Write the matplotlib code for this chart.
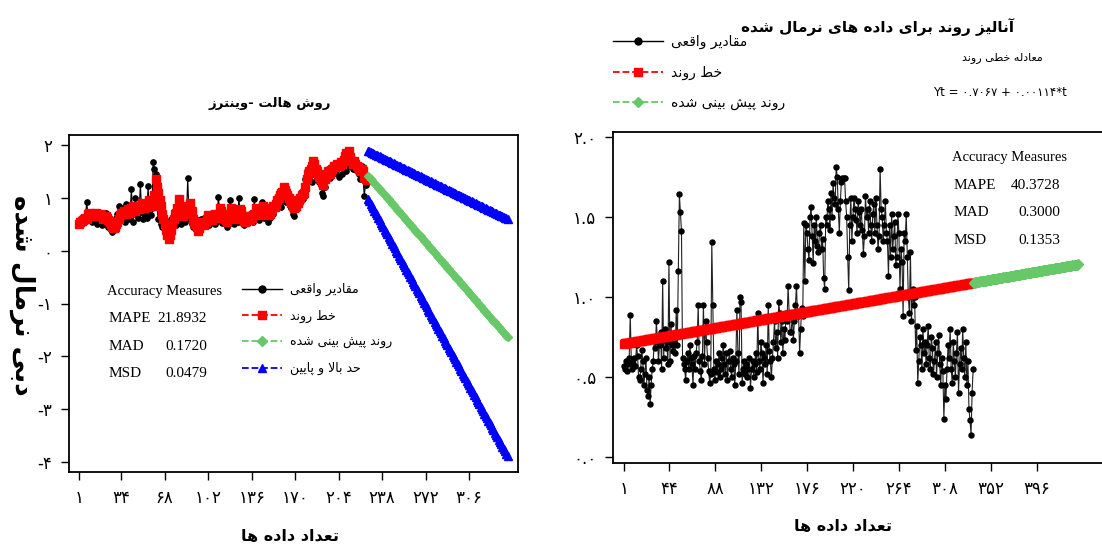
import numpy as np
import matplotlib
matplotlib.use("Agg")
import matplotlib.pyplot as plt
from matplotlib.lines import Line2D

W, H = 1102, 549
FA = ["DejaVu Sans"]
SERIF = ["Liberation Serif", "DejaVu Serif"]

# ---------------- data ----------------
# left panel: Holt-Winters, observed + fitted values, t = 1..226
left_actual = [
    0.57, 0.52, 0.6, 0.55, 0.62, 0.58, 0.92, 0.7, 0.65, 0.6,
    0.55, 0.68, 0.72, 0.6, 0.5, 0.62, 0.7, 0.58, 0.48, 0.65,
    0.6, 0.72, 0.55, 0.45, 0.5, 0.42, 0.35, 0.4, 0.5, 0.62,
    0.7, 0.85, 0.78, 0.62, 0.8, 0.68, 0.55, 0.88, 0.72, 0.6,
    0.75, 1.17, 0.54, 0.7, 0.99, 0.8, 0.62, 0.72, 1.26, 0.75,
    0.6, 0.9, 0.7, 0.62, 1.23, 0.75, 0.68, 0.8, 1.67, 1.55,
    1.45, 0.82, 0.6, 0.72, 0.5, 0.45, 0.62, 0.55, 0.4, 0.35,
    0.32, 0.45, 0.6, 0.55, 0.7, 0.52, 0.48, 0.62, 0.75, 0.58,
    0.5, 0.68, 0.72, 0.55, 0.6, 1.38, 0.7, 0.62, 0.5, 0.45,
    0.55, 0.62, 0.48, 0.4, 0.52, 0.6, 0.45, 0.5, 0.62, 0.58,
    0.7, 0.55, 0.48, 0.6, 0.72, 0.65, 0.5, 0.55, 0.68, 1.01,
    0.75, 0.6, 0.52, 0.62, 0.7, 0.58, 0.45, 0.55, 0.95, 0.68,
    0.6, 0.5, 0.62, 0.72, 0.55, 1.0, 0.7, 0.62, 0.5, 0.48,
    0.58, 0.65, 0.52, 0.6, 0.7, 0.62, 0.55, 0.98, 0.72, 0.6,
    0.65, 0.58, 0.75, 0.92, 0.7, 0.62, 0.8, 0.72, 0.55, 0.62,
    0.75, 0.85, 0.7, 0.8, 0.95, 0.88, 1.05, 0.9, 0.82, 0.95,
    1.1, 1.0, 0.92, 1.15, 1.05, 0.88, 0.8, 0.7, 0.66, 0.8,
    0.85, 0.95, 0.9, 1.05, 1.12, 0.98, 1.2, 1.35, 1.5, 1.42,
    1.55, 1.48, 1.3, 1.45, 1.6, 1.52, 1.38, 1.42, 1.3, 1.25,
    1.1, 1.04, 1.2, 1.35, 1.45, 1.55, 1.38, 1.42, 1.6, 1.5,
    1.48, 1.65, 1.55, 1.4, 1.68, 1.6, 1.45, 1.77, 1.62, 1.5,
    1.7, 1.6, 1.78, 1.65, 1.55, 1.72, 1.62, 1.5, 1.58, 1.45,
    1.35, 1.6, 1.4, 1.04, 1.25, 1.35,
]
left_fit = [
    0.5, 0.55, 0.56, 0.58, 0.6, 0.62, 0.6, 0.7, 0.72, 0.7,
    0.68, 0.66, 0.7, 0.72, 0.68, 0.65, 0.68, 0.7, 0.65, 0.6,
    0.62, 0.65, 0.62, 0.58, 0.55, 0.5, 0.45, 0.42, 0.45, 0.5,
    0.55, 0.6, 0.68, 0.72, 0.7, 0.75, 0.72, 0.7, 0.78, 0.75,
    0.72, 0.8, 0.85, 0.78, 0.75, 0.82, 0.8, 0.78, 0.85, 0.9,
    0.85, 0.8, 0.85, 0.82, 0.88, 0.95, 0.9, 0.85, 0.95, 1.05,
    1.36, 1.2, 1.1, 0.95, 0.85, 0.7, 0.6, 0.5, 0.4, 0.3,
    0.22, 0.3, 0.4, 0.5, 0.6, 0.7, 0.72, 0.8, 0.98, 0.85,
    0.7, 0.65, 0.75, 0.8, 0.7, 0.72, 0.85, 0.9, 0.75, 0.6,
    0.55, 0.5, 0.45, 0.38, 0.42, 0.5, 0.55, 0.5, 0.48, 0.55,
    0.6, 0.68, 0.65, 0.6, 0.58, 0.62, 0.7, 0.68, 0.62, 0.65,
    0.8, 0.75, 0.7, 0.62, 0.6, 0.58, 0.55, 0.6, 0.7, 0.8,
    0.75, 0.7, 0.68, 0.62, 0.6, 0.7, 0.78, 0.75, 0.65, 0.58,
    0.55, 0.6, 0.65, 0.62, 0.58, 0.62, 0.68, 0.7, 0.8, 0.75,
    0.7, 0.68, 0.72, 0.8, 0.85, 0.78, 0.75, 0.72, 0.68, 0.7,
    0.75, 0.8, 0.85, 0.82, 0.88, 0.95, 1.0, 1.05, 1.1, 1.12,
    1.2, 1.15, 1.1, 1.05, 1.0, 0.95, 0.9, 0.85, 0.8, 0.82,
    0.85, 0.9, 0.95, 1.0, 1.05, 1.08, 1.1, 1.2, 1.35, 1.45,
    1.5, 1.55, 1.6, 1.7, 1.65, 1.55, 1.5, 1.45, 1.4, 1.35,
    1.3, 1.25, 1.35, 1.4, 1.45, 1.5, 1.45, 1.5, 1.55, 1.6,
    1.58, 1.6, 1.65, 1.6, 1.62, 1.68, 1.65, 1.72, 1.8, 1.85,
    1.82, 1.89, 1.78, 1.7, 1.65, 1.7, 1.65, 1.6, 1.58, 1.55,
    1.5, 1.55, 1.5, 1.4, 1.35, 1.33,
]
# left forecast (t = 227..336): start / end values of forecast and limits
left_fc_t = (227, 336)
left_fc = (1.42, -1.64)
left_upper = (1.89, 0.60)
left_lower = (0.98, -3.89)

# right panel: normalised series t = 1..335
right_actual = [
    0.57, 0.55, 0.6, 0.54, 0.58, 0.62, 0.89, 0.6, 0.55, 0.58,
    0.62, 0.57, 0.7, 0.63, 0.5, 0.48, 0.55, 0.67, 0.6, 0.45,
    0.52, 0.62, 0.42, 0.38, 0.5, 0.33, 0.45, 0.55, 0.6, 0.75,
    0.68, 0.85, 0.72, 0.6, 0.7, 0.78, 0.55, 1.1, 0.62, 0.8,
    0.68, 0.72, 0.58, 1.22, 0.6, 0.83, 0.7, 0.66, 0.72, 0.65,
    0.92, 0.7, 1.16, 1.64, 1.53, 1.41, 0.62, 0.58, 0.55, 0.48,
    0.6, 0.65, 0.55, 0.7, 0.62, 0.58, 0.45, 0.63, 0.55, 0.65,
    0.72, 0.95, 0.6, 0.54, 0.48, 0.63, 0.95, 0.58, 0.85, 0.72,
    0.62, 0.54, 0.46, 0.52, 1.34, 0.95, 0.55, 0.48, 0.6, 0.53,
    0.58, 0.65, 0.5, 0.55, 0.62, 0.7, 0.58, 0.52, 0.65, 0.48,
    0.6, 0.66, 0.55, 0.5, 0.62, 0.58, 0.45, 0.6, 0.92, 0.65,
    0.52, 1.0, 0.97, 0.46, 0.55, 0.6, 0.52, 0.58, 0.5, 0.55,
    0.62, 0.43, 0.55, 0.6, 0.5, 0.58, 0.65, 0.53, 0.9, 0.6,
    0.55, 0.72, 0.65, 0.46, 0.62, 0.58, 0.7, 0.52, 0.95, 0.66,
    0.6, 0.5, 0.62, 0.72, 0.85, 0.68, 0.78, 0.62, 0.97, 0.9,
    0.72, 0.85, 0.65, 0.8, 0.73, 0.9, 0.85, 1.07, 0.9, 0.78,
    0.78, 0.9, 0.73, 0.85, 0.95, 1.07, 0.88, 0.9, 0.65, 0.8,
    0.93, 0.88, 1.46, 1.1, 1.45, 1.4, 1.3, 1.23, 1.5, 1.56,
    1.38, 1.21, 1.45, 1.35, 1.5, 1.32, 1.28, 1.4, 1.45, 1.3,
    1.36, 1.12, 1.05, 1.5, 1.45, 1.6, 1.55, 1.42, 1.65, 1.5,
    1.71, 1.62, 1.58, 1.81, 1.75, 1.55, 1.4, 1.6, 1.72, 1.74,
    1.74, 1.74, 1.6, 1.5, 1.25, 1.04, 1.45, 1.62, 1.35, 1.5,
    1.62, 1.55, 1.48, 1.4, 1.6, 1.53, 1.45, 1.55, 1.42, 1.27,
    1.38, 1.63, 1.5, 1.55, 1.4, 1.6, 1.45, 1.35, 1.52, 1.58,
    1.4, 1.62, 1.45, 1.3, 1.38, 1.8, 1.55, 1.5, 1.35, 1.45,
    1.6, 1.4, 1.35, 1.13, 1.45, 1.25, 1.52, 1.3, 1.38, 1.47,
    1.2, 1.25, 1.52, 1.4, 1.05, 1.3, 1.22, 0.88, 1.4, 1.35,
    1.52, 1.25, 1.0, 0.9, 1.28, 0.85, 1.05, 0.95, 1.0, 0.67,
    0.82, 0.46, 0.6, 0.75, 0.7, 0.55, 0.8, 0.65, 0.72, 0.58,
    0.7, 0.82, 0.62, 0.55, 0.75, 0.68, 0.52, 0.6, 0.72, 0.5,
    0.65, 0.76, 0.58, 0.45, 0.62, 0.54, 0.24, 0.45, 0.36, 0.55,
    0.7, 0.62, 0.8, 0.55, 0.46, 0.72, 0.6, 0.5, 0.65, 0.78,
    0.4, 0.58, 0.68, 0.55, 0.8, 0.62, 0.5, 0.72, 0.45, 0.6,
    0.3, 0.23, 0.14, 0.4, 0.55,
]
# trend equation printed on the chart: Yt = 0.7067 + 0.00114*t
trend_b0, trend_b1 = 0.7067, 0.00114
right_fc_end = 435

acc_left = [("MAPE", "21.8932"), ("MAD", "0.1720"), ("MSD", "0.0479")]
acc_right = [("MAPE", "40.3728"), ("MAD", "0.3000"), ("MSD", "0.1353")]

left_xticks = [1, 34, 68, 102, 136, 170, 204, 238, 272, 306]
left_yticks = [2, 1, 0, -1, -2, -3, -4]
right_xticks = [1, 44, 88, 132, 176, 220, 264, 308, 352, 396]
right_yticks = [0.0, 0.5, 1.0, 1.5, 2.0]

# ---------------- minimal Persian shaping ----------------
FORMS = {  # isolated, final, initial, medial
    "ا": ("\uFE8D", "\uFE8E", None, None),
    "آ": ("\uFE81", "\uFE82", None, None),
    "ب": ("\uFE8F", "\uFE90", "\uFE91", "\uFE92"),
    "پ": ("\uFB56", "\uFB57", "\uFB58", "\uFB59"),
    "ت": ("\uFE95", "\uFE96", "\uFE97", "\uFE98"),
    "ح": ("\uFEA1", "\uFEA2", "\uFEA3", "\uFEA4"),
    "خ": ("\uFEA5", "\uFEA6", "\uFEA7", "\uFEA8"),
    "د": ("\uFEA9", "\uFEAA", None, None),
    "ر": ("\uFEAD", "\uFEAE", None, None),
    "ز": ("\uFEAF", "\uFEB0", None, None),
    "ش": ("\uFEB5", "\uFEB6", "\uFEB7", "\uFEB8"),
    "ط": ("\uFEC1", "\uFEC2", "\uFEC3", "\uFEC4"),
    "ع": ("\uFEC9", "\uFECA", "\uFECB", "\uFECC"),
    "ق": ("\uFED5", "\uFED6", "\uFED7", "\uFED8"),
    "ل": ("\uFEDD", "\uFEDE", "\uFEDF", "\uFEE0"),
    "م": ("\uFEE1", "\uFEE2", "\uFEE3", "\uFEE4"),
    "ن": ("\uFEE5", "\uFEE6", "\uFEE7", "\uFEE8"),
    "ه": ("\uFEE9", "\uFEEA", "\uFEEB", "\uFEEC"),
    "و": ("\uFEED", "\uFEEE", None, None),
    "ی": ("\uFBFC", "\uFBFD", "\uFBFE", "\uFBFF"),
}
LAM_ALEF = {"ا": ("\uFEFB", "\uFEFC"), "آ": ("\uFEF5", "\uFEF6")}


def dual(c):
    return c in FORMS and FORMS[c][2] is not None


def fa(s):
    res = []
    i, n = 0, len(s)
    while i < n:
        c = s[i]
        if c not in FORMS:
            res.append(c)
            i += 1
            continue
        link_prev = i > 0 and dual(s[i - 1])
        if c == "ل" and i + 1 < n and s[i + 1] in LAM_ALEF:
            lig = LAM_ALEF[s[i + 1]]
            res.append(lig[1] if link_prev else lig[0])
            i += 2
            continue
        link_next = dual(c) and i + 1 < n and s[i + 1] in FORMS
        iso, fin, ini, med = FORMS[c]
        if link_prev and link_next:
            res.append(med)
        elif link_prev:
            res.append(fin)
        elif link_next:
            res.append(ini)
        else:
            res.append(iso)
        i += 1
    return "".join(reversed(res))


PDIG = str.maketrans("0123456789-", "۰۱۲۳۴۵۶۷۸۹-")


def pnum(v, fmt="{:g}"):
    return fmt.format(v).translate(PDIG)


def px(x, y):
    return x / W, 1 - y / H


# ---------------- figure ----------------
fig = plt.figure(figsize=(W / 100, H / 100), dpi=100)

ax1 = fig.add_axes([69 / W, 1 - 472 / H, 449 / W, 337 / H])
ax2 = fig.add_axes([613 / W, 1 - 463 / H, 495 / W, 331 / H])

GREEN = "#66c866"
BLUE = "#0000ff"
RED = "#ff0000"

# left panel
t_left = np.arange(1, len(left_actual) + 1)
ax1.plot(t_left, left_actual, color="black", lw=0.8, marker="o", ms=3.8, zorder=3)
ax1.plot(t_left, left_fit, color=RED, lw=1, ls="--", marker="s", ms=5.4, zorder=4)
t_fc = np.arange(left_fc_t[0], left_fc_t[1] + 1)
ax1.plot(t_fc, np.linspace(*left_fc, len(t_fc)), color=GREEN, lw=1, ls="--",
         marker="D", ms=4.4, zorder=4)
for band in (left_upper, left_lower):
    ax1.plot(t_fc, np.linspace(*band, len(t_fc)), color=BLUE, lw=1, ls="--",
             marker="^", ms=5.4, zorder=4)
ax1.set_xlim(-6.8, 344.2)
ax1.set_ylim(-4.19, 2.19)
ax1.set_xticks(left_xticks)
ax1.set_xticklabels([pnum(v) for v in left_xticks], family=FA, fontsize=12)
ax1.set_yticks(left_yticks)
ax1.set_yticklabels([pnum(v) for v in left_yticks], family=FA, fontsize=12)

# right panel
t_right = np.arange(1, len(right_actual) + 1)
ax2.plot(t_right, right_actual, color="#222222", lw=0.8, marker="o", ms=3.6,
         mfc="black", mec="black", zorder=3)
trend = trend_b0 + trend_b1 * t_right
ax2.plot(t_right, trend, color=RED, lw=1, ls="--", marker="s", ms=5.2, zorder=4)
t_rfc = np.arange(len(right_actual) + 1, right_fc_end + 1)
ax2.plot(t_rfc, trend_b0 + trend_b1 * t_rfc, color=GREEN, lw=1, ls="--",
         marker="D", ms=4.6, zorder=4)
ax2.set_xlim(-9.5, 464)
ax2.set_ylim(-0.0375, 2.03)
ax2.set_xticks(right_xticks)
ax2.set_xticklabels([pnum(v) for v in right_xticks], family=FA, fontsize=12)
ax2.set_yticks(right_yticks)
ax2.set_yticklabels([pnum(v, "{:.1f}") for v in right_yticks], family=FA, fontsize=12)

for ax in (ax1, ax2):
    for sp in ax.spines.values():
        sp.set_linewidth(1.3)
    ax.tick_params(direction="out", length=6, width=1, pad=6)

# titles and axis labels
fig.text(*px(270, 103), fa("روش هالت -وینترز"), family=FA, weight="bold",
         fontsize=9.5, ha="center", va="center")
fig.text(*px(290, 537), fa("تعداد داده ها"), family=FA, weight="bold",
         fontsize=11.5, ha="center", va="center")
fig.text(*px(22, 295), fa("دبی نرمال شده"), family=FA, weight="bold",
         fontsize=19, ha="center", va="center", rotation=270)
fig.text(*px(878, 27), fa("آنالیز روند برای داده های نرمال شده"), family=FA,
         weight="bold", fontsize=11, ha="center", va="center")
fig.text(*px(843, 527), fa("تعداد داده ها"), family=FA, weight="bold",
         fontsize=11.5, ha="center", va="center")
fig.text(*px(1002, 58), fa("معادله خطی روند"), family=FA, fontsize=8,
         ha="center", va="center")
fig.text(*px(1000, 92), "Yt = ۰.۷۰۶۷ + ۰.۰۰۱۱۴*t", family=FA, fontsize=8.5,
         ha="center", va="center")


# accuracy measures
def accuracy(x0, xv, y0, rows):
    fig.text(*px(x0 + 2, y0), "Accuracy Measures", family=SERIF, fontsize=10.5,
             ha="left", va="center")
    for k, (name, val) in enumerate(rows):
        yy = y0 + 27.5 * (k + 1)
        fig.text(*px(x0 + 4, yy), name, family=SERIF, fontsize=11, ha="left", va="center")
        fig.text(*px(xv, yy), val, family=SERIF, fontsize=11, ha="right", va="center")


accuracy(105, 207, 291, acc_left)
accuracy(950, 1060, 158, acc_right)

# legends
h_act = Line2D([], [], color="black", lw=1, marker="o", ms=5)
h_trend = Line2D([], [], color=RED, lw=1.3, ls="--", marker="s", ms=6)
h_fc = Line2D([], [], color=GREEN, lw=1.3, ls="--", marker="D", ms=5)
h_lim = Line2D([], [], color=BLUE, lw=1.3, ls="--", marker="^", ms=6)
lab = [fa("مقادیر واقعی"), fa("خط روند"), fa("روند پیش بینی شده"), fa("حد بالا و پایین")]

fig.legend([h_act, h_trend, h_fc, h_lim], lab, loc="upper left",
           bbox_to_anchor=px(231, 272), frameon=False, handlelength=3.2,
           handletextpad=0.6, labelspacing=1.05, prop={"family": FA, "size": 9})
fig.legend([h_act, h_trend, h_fc], lab[:3], loc="upper left",
           bbox_to_anchor=px(600, 22), frameon=False, handlelength=3.6,
           handletextpad=0.6, labelspacing=1.2, prop={"family": FA, "size": 10})

fig.savefig("out.png", dpi=100)
